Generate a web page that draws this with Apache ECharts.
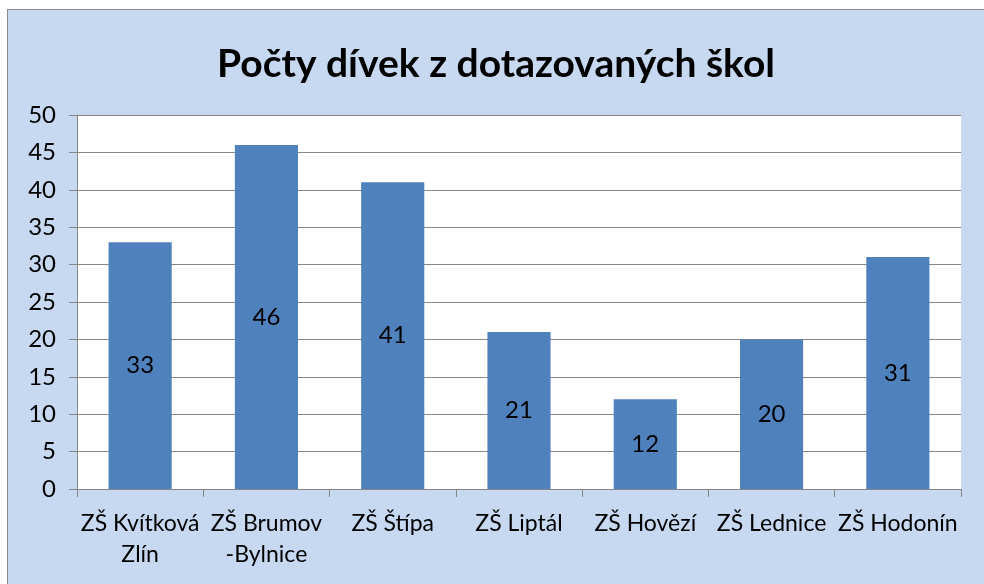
<!DOCTYPE html>
<html>
<head>
<meta charset="utf-8">
<script src="https://cdn.jsdelivr.net/npm/echarts@6/dist/echarts.min.js"></script>
<style>
  html, body { margin: 0; padding: 0; background: #ffffff; }
  #chartContainer {
    position: absolute; left: 7px; top: 9px;
    width: 976px; height: 574px;
    border-left: 1px solid #8c8c8c; border-top: 1px solid #8c8c8c;
  }
</style>
</head>
<body>
<div id="chartContainer"></div>
<script>
// data
const chartTitle = 'Počty dívek z dotazovaných škol';
const schools = ['ZŠ Kvítková\nZlín', 'ZŠ Brumov\n-Bylnice', 'ZŠ Štípa', 'ZŠ Liptál', 'ZŠ Hovězí', 'ZŠ Lednice', 'ZŠ Hodonín'];
const girlCounts = [33, 46, 41, 21, 12, 20, 31];

const fontFamily = 'Lato, "Open Sans", sans-serif';

const chart = echarts.init(document.getElementById('chartContainer'));
chart.setOption({
  backgroundColor: '#c6d9f1',
  textStyle: { fontFamily: fontFamily },
  title: {
    text: chartTitle,
    left: 'center',
    top: 30,
    textStyle: { fontSize: 39, fontWeight: 'bold', color: '#000', fontFamily: fontFamily }
  },
  grid: { left: 69, right: 23, top: 105, bottom: 95, backgroundColor: '#fff', show: true, borderWidth: 0 },
  xAxis: {
    type: 'category',
    data: schools,
    axisLine: { lineStyle: { color: '#868686', width: 1 } },
    axisTick: { show: true, length: 8, lineStyle: { color: '#868686' } },
    axisLabel: { color: '#000', fontSize: 23, lineHeight: 31, margin: 19, interval: 0 }
  },
  yAxis: {
    type: 'value',
    min: 0, max: 50, interval: 5,
    axisLine: { show: true, lineStyle: { color: '#868686', width: 1 } },
    axisTick: { show: true, length: 8, lineStyle: { color: '#868686' } },
    axisLabel: { color: '#000', fontSize: 24, margin: 21 },
    splitLine: { lineStyle: { color: '#868686', width: 1 } }
  },
  series: [{
    type: 'bar',
    data: girlCounts,
    barWidth: '50%',
    itemStyle: { color: '#4f81bd' },
    label: { show: true, position: 'inside', color: '#000', fontSize: 24 }
  }]
});
</script>
</body>
</html>
